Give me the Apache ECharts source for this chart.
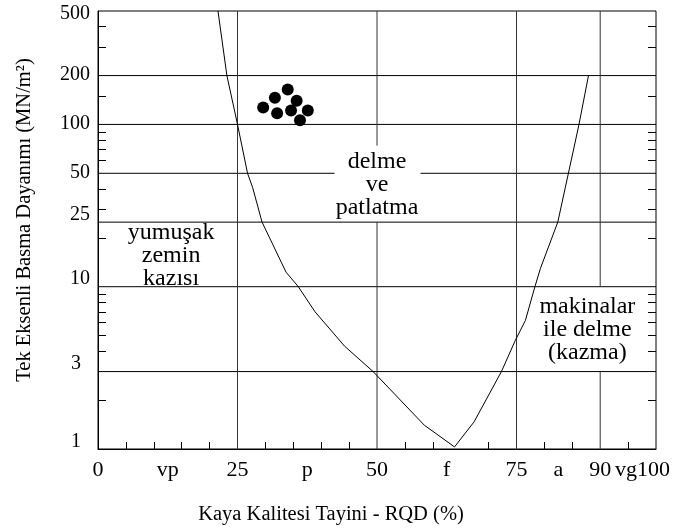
<!DOCTYPE html>
<html>
<head>
<meta charset="utf-8">
<script src="https://cdn.jsdelivr.net/npm/echarts@6/dist/echarts.min.js"></script>
<style>
  html, body { margin: 0; padding: 0; background: #fff; }
  #myChart { width: 677px; height: 530px; }
</style>
</head>
<body>
<div id="myChart"></div>
<script>
// sınır eğrisi: [RQD %, dayanım MN/m2]
const boundary = [
  [21.5, 500], [23.1, 200], [25, 100], [26.8, 50], [27.7, 41], [29.4, 25],
  [33.7, 12.3], [35.9, 10], [38.9, 7], [44.2, 4.3], [49.3, 3], [58.5, 1.4],
  [63.9, 1.03], [67.4, 1.47], [72.3, 3], [74.8, 4.68], [76.6, 6.2], [78.3, 10],
  [79.3, 13], [82.4, 25], [84.3, 50], [86.2, 100], [87.9, 200]
]
// kaya parçaları (siyah noktalar)
const rockPoints = [
  [29.6, 127], [31.7, 146], [34.0, 164], [35.6, 140],
  [32.1, 117], [34.6, 122], [37.6, 122], [36.2, 106]
]
// eksen etiketleri
const yLabelValues = [1, 3, 10, 25, 50, 100, 200, 500]
const yMinorTicks = [2, 4, 5, 6, 7, 8, 9, 20, 30, 40, 60, 70, 80, 90, 150, 300, 400]
const xLabelValues = [0, 12.5, 25, 37.5, 50, 62.5, 75, 82.5, 90, 97.6]
const xLabelTexts = ['0', 'vp', '25', 'p', '50', 'f', '75', 'a', '90', 'vg100']
const xMinorTicks = [5, 10, 15, 20, 30, 35, 40, 45, 55, 60, 70, 80, 85, 95]
// ızgara çizgileri
const hGrid = [200, 100, 50, 25, 10, 3]
const vGrid = [25, 50, 75, 90]
// bölge yazıları
const noteTexts = ['delme\nve\npatlatma', 'yumuşak\nzemin\nkazısı', 'makinalar\nile delme\n(kazma)']

const font = "'Liberation Serif', 'Times New Roman', serif"

// yazıların arkasında çizgi boşlukları ve yazı konumları
const hGaps = { 50: [42.4, 57.8] }
const vGaps = { 50: [25, 74], 90: [3, 10] }
const notePos = [[50, 42.6], [13.1, 15.6], [87.7, 5.47]]

function segs(from, to, gap) {
  return gap ? [[from, gap[0]], [gap[1], to]] : [[from, to]]
}

let series = []
hGrid.forEach(y => {
  segs(0, 100, hGaps[y]).forEach(s => {
    series.push({
      type: 'line', silent: true, symbol: 'none', animation: false,
      data: [[s[0], y], [s[1], y]],
      lineStyle: { color: '#000', width: 1 }
    })
  })
})
vGrid.forEach(x => {
  segs(1, 500, vGaps[x]).forEach(s => {
    series.push({
      type: 'line', silent: true, symbol: 'none', animation: false,
      data: [[x, s[0]], [x, s[1]]],
      lineStyle: { color: '#333', width: 1 }
    })
  })
})
// eğri
series.push({
  type: 'line', symbol: 'none', animation: false, z: 5,
  data: boundary,
  lineStyle: { color: '#000', width: 1 }
})
// noktalar
series.push({
  type: 'scatter', symbol: 'circle', symbolSize: 12, animation: false, z: 6,
  data: rockPoints,
  itemStyle: { color: '#000', opacity: 1 }
})

const myChart = echarts.init(document.getElementById('myChart'))
const option = {
  animation: false,
  grid: { left: 98, right: 21, top: 11, bottom: 81, show: true, borderColor: '#000', borderWidth: 1 },
  /*x ekseni*/
  xAxis: {
    type: 'value', min: 0, max: 100,
    name: 'Kaya Kalitesi Tayini - RQD (%)',
    nameLocation: 'middle', nameGap: 55,
    nameTextStyle: { color: '#000', fontFamily: font, fontSize: 20.5, padding: [0, 92, 0, 0] },
    axisLine: { show: true, lineStyle: { color: '#000', width: 1 } },
    axisTick: { show: true, inside: true, length: 7, customValues: xMinorTicks, lineStyle: { color: '#000' } },
    axisLabel: {
      customValues: xLabelValues, margin: 10, hideOverlap: false,
      showMinLabel: true, showMaxLabel: true,
      formatter: v => xLabelTexts[xLabelValues.indexOf(v)],
      color: '#000', fontFamily: font, fontSize: 22
    },
    splitLine: { show: false }
  },
  /*y ekseni*/
  yAxis: [
    {
      type: 'log', logBase: 10, min: 1, max: 500,
      name: 'Tek Eksenli Basma Dayanımı (MN/m²)',
      nameLocation: 'middle', nameGap: 63,
      nameTextStyle: { color: '#000', fontFamily: font, fontSize: 20.5, padding: [0, 0, 0, 20] },
      axisLine: { show: true, lineStyle: { color: '#000', width: 1 } },
      axisTick: { show: true, inside: true, length: 8, customValues: yMinorTicks, lineStyle: { color: '#000' } },
      axisLabel: {
        customValues: yLabelValues, margin: 8,
        formatter: v => {
          let n = Math.round(v)
          if (n === 500) return '{t|' + n + '}'
          if (n >= 50) return '{m|' + n + '}'
          if (n < 10) return '{s|' + n + '}'
          return '{l|' + n + '}'
        },
        rich: {
          t: { color: '#000', fontFamily: font, fontSize: 20, padding: [5, 0, 0, 0] },
          m: { color: '#000', fontFamily: font, fontSize: 20, padding: [0, 0, 2, 0] },
          l: { color: '#000', fontFamily: font, fontSize: 20, padding: [0, 0, 15, 0] },
          s: { color: '#000', fontFamily: font, fontSize: 20, padding: [0, 9, 15, 0] }
        }
      },
      splitLine: { show: false }
    },
    {
      type: 'log', logBase: 10, min: 1, max: 500, position: 'right',
      axisLine: { show: false },
      axisTick: { show: true, inside: true, length: 8, customValues: yMinorTicks, lineStyle: { color: '#000' } },
      axisLabel: { show: false },
      splitLine: { show: false }
    }
  ],
  series: series
}
myChart.setOption(option, true)

// bölge yazıları: veri koordinatından piksele çevirip yerleştir
myChart.setOption({
  graphic: noteTexts.map((t, i) => {
    let pt = myChart.convertToPixel({ gridIndex: 0 }, notePos[i])
    return {
      type: 'text', x: pt[0], y: pt[1], z: 10, silent: true,
      style: {
        text: t, fill: '#000', font: '24px ' + font, lineHeight: 23,
        align: 'center', verticalAlign: 'middle'
      }
    }
  })
})
</script>
</body>
</html>
